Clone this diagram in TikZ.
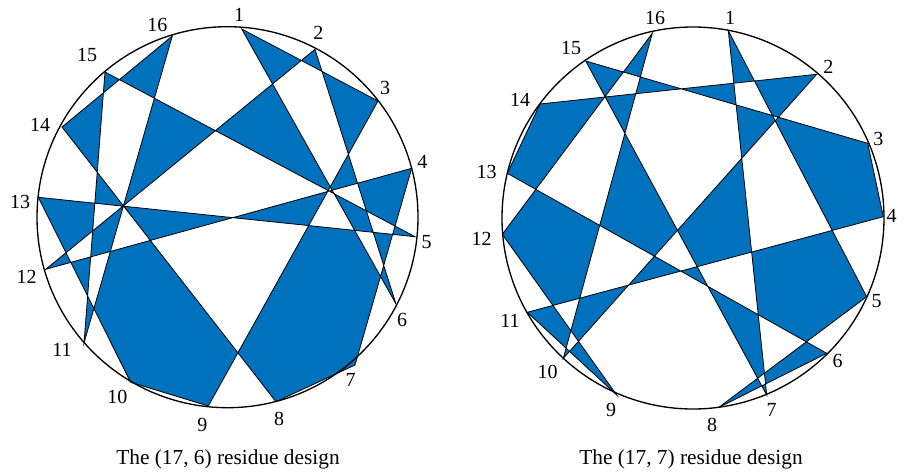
\documentclass[tikz,border=0pt]{standalone}
\usepackage{fontspec}
\setmainfont{Liberation Serif}
\definecolor{mblue}{RGB}{0,114,189}
\begin{document}
\begin{tikzpicture}[x=0.75pt,y=-0.75pt,
  rim/.style={line width=1pt},
  poly/.style={fill=mblue,even odd rule,draw=black,line width=0.6pt,line join=miter},
  lab/.style={font=\fontsize{15}{16}\selectfont,inner sep=0pt},
  captext/.style={font=\fontsize{16}{18}\selectfont,inner sep=0pt}]
\useasboundingbox (0,0) rectangle (910,474);
% left vertices
\coordinate (L1) at (241.7,29);
\coordinate (L2) at (315,49.3);
\coordinate (L3) at (378,101);
\coordinate (L4) at (411.7,168.3);
\coordinate (L5) at (415,236.7);
\coordinate (L6) at (396,304);
\coordinate (L7) at (355,365);
\coordinate (L8) at (276,401.7);
\coordinate (L9) at (208.3,406);
\coordinate (L10) at (130.7,382.3);
\coordinate (L11) at (84,343);
\coordinate (L12) at (45.7,269.3);
\coordinate (L13) at (38.3,197.3);
\coordinate (L14) at (62,127);
\coordinate (L15) at (105,72);
\coordinate (L16) at (172.3,36);
% right vertices
\coordinate (R1) at (728.3,30.7);
\coordinate (R2) at (816.7,74.3);
\coordinate (R3) at (867.7,143.3);
\coordinate (R4) at (883.3,216.7);
\coordinate (R5) at (866.7,296.7);
\coordinate (R6) at (826.7,353.3);
\coordinate (R7) at (766.7,395);
\coordinate (R8) at (718.3,407.7);
\coordinate (R9) at (616.7,395);
\coordinate (R10) at (563.3,358.3);
\coordinate (R11) at (527.3,312.3);
\coordinate (R12) at (502.3,234.3);
\coordinate (R13) at (507.3,173.3);
\coordinate (R14) at (540,104);
\coordinate (R15) at (585.7,61);
\coordinate (R16) at (652.3,33.3);
% left design
\path[poly] (L1) -- (L6) -- (L2) -- (L12) -- (L4) -- (L7) -- (L8) -- (L14) -- (L16) -- (L11) -- (L15) -- (L5) -- (L13) -- (L10) -- (L9) -- (L3) -- cycle;
\node[circle,draw,rim,minimum size=381pt*0.75,inner sep=0pt] (LC) at (227.5,217.2) {};
% right design
\path[poly] (R1) -- (R7) -- (R15) -- (R3) -- (R4) -- (R11) -- (R9) -- (R12) -- (R16) -- (R10) -- (R2) -- (R14) -- (R13) -- (R6) -- (R8) -- (R5) -- cycle;
\node[circle,draw,rim,minimum size=382pt*0.75,inner sep=0pt] (RC) at (693,218) {};
% left labels
\node[lab] (l1) at (239,15) {1};
\node[lab] (l2) at (318.3,33.3) {2};
\node[lab] (l3) at (385,88) {3};
\node[lab] (l4) at (422.3,161.7) {4};
\node[lab] (l5) at (426.7,241.7) {5};
\node[lab] (l6) at (402,320) {6};
\node[lab] (l7) at (350.7,380) {7};
\node[lab] (l8) at (279,419.3) {8};
\node[lab] (l9) at (202.3,425) {9};
\node[lab] (l10) at (117.3,396.7) {10};
\node[lab] (l11) at (62,350) {11};
\node[lab] (l12) at (26.7,277.3) {12};
\node[lab] (l13) at (20,201.7) {13};
\node[lab] (l14) at (40,125) {14};
\node[lab] (l15) at (87,55) {15};
\node[lab] (l16) at (157.3,25) {16};
% right labels
\node[lab] (r1) at (730,18.3) {1};
\node[lab] (r2) at (828.3,66.7) {2};
\node[lab] (r3) at (878.3,139) {3};
\node[lab] (r4) at (891.7,216) {4};
\node[lab] (r5) at (876.7,301) {5};
\node[lab] (r6) at (837.7,361) {6};
\node[lab] (r7) at (771.7,410) {7};
\node[lab] (r8) at (712,425) {8};
\node[lab] (r9) at (611,410) {9};
\node[lab] (r10) at (547.7,371.7) {10};
\node[lab] (r11) at (510,321) {11};
\node[lab] (r12) at (481.7,239.3) {12};
\node[lab] (r13) at (486.7,171.7) {13};
\node[lab] (r14) at (520,100) {14};
\node[lab] (r15) at (571,47.7) {15};
\node[lab] (r16) at (655,18.3) {16};
% captions
\node[captext] (capL) at (228,459) {The (17, 6) residue design};
\node[captext] (capR) at (691,459) {The (17, 7) residue design};
\end{tikzpicture}
\end{document}
